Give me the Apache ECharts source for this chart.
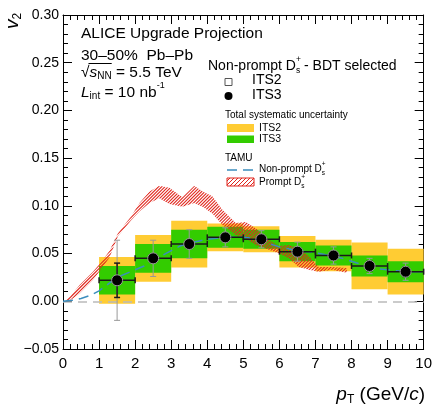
<!DOCTYPE html>
<html>
<head>
<meta charset="utf-8">
<script src="https://cdn.jsdelivr.net/npm/echarts@6/dist/echarts.min.js"></script>
<style>
  html, body { margin: 0; padding: 0; background: #fff; }
  #chart { width: 435px; height: 411px; }
</style>
</head>
<body>
<div id="chart"></div>
<script>
// projected v2 points, Non-prompt Ds (bin centres in GeV/c)
const ptCenters = [1.5, 2.5, 3.5, 4.5, 5.5, 6.5, 7.5, 8.5, 9.5]
const ptHalfWidth = [0.5, 0.5, 0.5, 0.5, 0.5, 0.5, 0.5, 0.5, 0.5]
const v2Points = [0.022, 0.045, 0.060, 0.067, 0.065, 0.052, 0.048, 0.037, 0.031]
const statITS3 = [0.018, 0.004, 0.003, 0.003, 0.003, 0.003, 0.003, 0.005, 0.005]
const statITS2 = [0.042, 0.019, 0.015, 0.010, 0.009, 0.010, 0.009, 0.008, 0.009]
const sysITS3 = [0.015, 0.015, 0.015, 0.011, 0.010, 0.010, 0.0105, 0.011, 0.011]
const sysITS2 = [0.0245, 0.0245, 0.0245, 0.0145, 0.0135, 0.0165, 0.0165, 0.0245, 0.024]

// TAMU non-prompt Ds curve
const tamuNonPromptPt = [0, 0.25, 0.5, 0.75, 1.0, 1.25, 1.5, 1.75, 2.0, 2.25, 2.5, 2.75, 3.0, 3.25, 3.5, 3.75,
  4.0, 4.25, 4.5, 4.75, 5.0, 5.25, 5.5, 5.75, 6.0, 6.25, 6.5, 6.75, 7.0, 7.25, 7.5, 7.75,
  8.0, 8.25, 8.5, 8.75, 9.0, 9.25, 9.5, 9.75, 10]
const tamuNonPromptV2 = [0, 0.001, 0.003, 0.006, 0.011, 0.018, 0.025, 0.029, 0.033, 0.037, 0.043, 0.048, 0.053, 0.058, 0.061, 0.063,
  0.065, 0.066, 0.067, 0.067, 0.067, 0.066, 0.065, 0.060, 0.057, 0.055, 0.053, 0.052, 0.051, 0.049, 0.047, 0.045,
  0.042, 0.039, 0.036, 0.034, 0.033, 0.032, 0.031, 0.031, 0.031]

// TAMU prompt Ds band
const tamuPromptPt = [0.1, 0.2, 0.46, 0.83, 1.1, 1.29, 1.52, 1.89, 2.12, 2.4, 2.67, 2.95, 3.31, 3.64, 3.87, 4.14,
  4.42, 4.79, 5.07, 5.34, 5.71, 5.99, 6.26, 6.54, 6.82, 7.09, 7.46, 7.87]
const tamuPromptHigh = [0.002, 0.005, 0.017, 0.031, 0.043, 0.053, 0.071, 0.089, 0.103, 0.115, 0.121, 0.119, 0.109, 0.121, 0.115, 0.110,
  0.096, 0.082, 0.083, 0.0765, 0.064, 0.058, 0.059, 0.0555, 0.047, 0.036, 0.036, 0.035]
const tamuPromptLow = [0, 0.001, 0.008, 0.022, 0.036, 0.046, 0.068, 0.085, 0.094, 0.103, 0.108, 0.102, 0.099, 0.103, 0.099, 0.092,
  0.080, 0.0695, 0.066, 0.059, 0.054, 0.050, 0.045, 0.036, 0.033, 0.031, 0.033, 0.030]

const xRange = [0, 10, 1]
const yRange = [-0.05, 0.30, 0.05]

const FONT = '"Liberation Sans", Arial, Helvetica, sans-serif'
const YELLOW = '#ffcc33'
const GREEN = '#33cc00'
const RED = '#e0251c'
const BLUE = '#3b8dbd'

const chart = echarts.init(document.getElementById('chart'))

// hatch pattern for the legend swatch
const hatch = document.createElement('canvas')
hatch.width = hatch.height = 4
const hg = hatch.getContext('2d')
hg.strokeStyle = RED
hg.lineWidth = 1
hg.beginPath()
hg.moveTo(0, 4); hg.lineTo(4, 0)
hg.moveTo(-1, 1); hg.lineTo(1, -1)
hg.moveTo(3, 5); hg.lineTo(5, 3)
hg.stroke()
const hatchFill = { image: hatch, repeat: 'repeat' }

// text helpers
const mctx = document.createElement('canvas').getContext('2d')
function tw(t, size, italic) {
  mctx.font = (italic ? 'italic ' : '') + size + 'px "Liberation Sans"'
  return mctx.measureText(t).width
}
function runText(x0, cy, segs) {
  const els = []
  let x = x0
  segs.forEach(s => {
    els.push({
      type: 'text', x: x, y: cy + (s.dy || 0), z: 100,
      style: { text: s.t, fontSize: s.s, fontStyle: s.i ? 'italic' : 'normal', fontFamily: FONT, fill: '#000', verticalAlign: 'middle', align: 'left' }
    })
    if (!s.stay) x += tw(s.t, s.s, s.i)
  })
  return els
}
function runWidth(segs) {
  return segs.reduce((w, s) => w + (s.stay ? 0 : tw(s.t, s.s, s.i)), 0)
}

const graphics = []
graphics.push(...runText(81, 33.5, [{ t: 'ALICE Upgrade Projection', s: 15.5 }]))
graphics.push(...runText(81, 55.5, [{ t: '30–50%  Pb–Pb', s: 15.5 }]))
const sqrtSegs = [{ t: '√', s: 15.5 }, { t: 's', s: 15.5, i: true }, { t: 'NN', s: 10, dy: 4 }, { t: ' = 5.5 TeV', s: 15.5 }]
graphics.push(...runText(81, 72.5, sqrtSegs))
const olStart = 81 + tw('√', 15.5)
const olEnd = olStart + tw('s', 15.5, true) + tw('NN', 10)
graphics.push({ type: 'line', z: 100, shape: { x1: olStart - 1, y1: 63.5, x2: olEnd, y2: 63.5 }, style: { stroke: '#000', lineWidth: 1 } })
graphics.push(...runText(81, 92.5, [{ t: 'L', s: 15.5, i: true }, { t: 'int', s: 10, dy: 4 }, { t: ' = 10 nb', s: 15.5 }, { t: '-1', s: 9, dy: -7 }]))

graphics.push(...runText(208, 66, [{ t: 'Non-prompt D', s: 14 }, { t: '+', s: 8.5, dy: -6, stay: true }, { t: 's', s: 8.5, dy: 5 }, { t: ' - BDT selected', s: 14 }]))
graphics.push({ type: 'rect', z: 100, shape: { x: 225, y: 78.5, width: 7, height: 7 }, style: { fill: '#fff', stroke: '#555', lineWidth: 1 } })
graphics.push(...runText(252, 80.5, [{ t: 'ITS2', s: 14 }]))
graphics.push({ type: 'circle', z: 100, shape: { cx: 228.5, cy: 96, r: 4 }, style: { fill: '#000' } })
graphics.push(...runText(252, 95.5, [{ t: 'ITS3', s: 14 }]))

graphics.push(...runText(225, 115, [{ t: 'Total systematic uncertainty', s: 10 }]))
graphics.push({ type: 'rect', z: 100, shape: { x: 227, y: 124, width: 27, height: 8 }, style: { fill: YELLOW } })
graphics.push(...runText(259, 128, [{ t: 'ITS2', s: 10.5 }]))
graphics.push({ type: 'rect', z: 100, shape: { x: 227, y: 135.5, width: 27, height: 7.5 }, style: { fill: GREEN } })
graphics.push(...runText(259, 139.5, [{ t: 'ITS3', s: 10.5 }]))

graphics.push(...runText(225, 158, [{ t: 'TAMU', s: 10 }]))
graphics.push({ type: 'line', z: 100, shape: { x1: 227, y1: 170, x2: 254, y2: 170 }, style: { stroke: BLUE, lineWidth: 1.5, lineDash: [10, 6] } })
graphics.push(...runText(259, 169.5, [{ t: 'Non-prompt D', s: 10 }, { t: '+', s: 6.5, dy: -5, stay: true }, { t: 's', s: 6.5, dy: 4 }]))
graphics.push({ type: 'rect', z: 100, shape: { x: 227, y: 178, width: 27, height: 8 }, style: { fill: hatchFill, stroke: RED, lineWidth: 1 } })
graphics.push(...runText(259, 182.5, [{ t: 'Prompt D', s: 10 }, { t: '+', s: 6.5, dy: -5, stay: true }, { t: 's', s: 6.5, dy: 4 }]))

// axis titles
const xTitle = [{ t: 'p', s: 19, i: true }, { t: 'T', s: 12, dy: 5 }, { t: ' (GeV/', s: 19 }, { t: 'c', s: 19, i: true }, { t: ')', s: 19 }]
graphics.push(...runText(425 - runWidth(xTitle), 395, xTitle))
graphics.push({
  type: 'group', x: 13, y: 29, rotation: Math.PI / 2, z: 100,
  children: runText(0, 0, [{ t: 'v', s: 19, i: true }, { t: '2', s: 12, dy: 5 }])
})

const pointData = ptCenters.map((x, i) => [x, v2Points[i]])

function boxRenderer(color, sys) {
  return function (params, api) {
    const i = params.dataIndex
    const x = api.value(0), y = api.value(1)
    const p1 = api.coord([x - ptHalfWidth[i], y + sys[i]])
    const p2 = api.coord([x + ptHalfWidth[i], y - sys[i]])
    return { type: 'rect', shape: { x: p1[0], y: p1[1], width: p2[0] - p1[0], height: p2[1] - p1[1] }, style: { fill: color } }
  }
}

function errRenderer(color, err, width, withX) {
  return function (params, api) {
    const i = params.dataIndex
    const x = api.value(0), y = api.value(1)
    const top = api.coord([x, y + err[i]])
    const bot = api.coord([x, y - err[i]])
    const st = { stroke: color, lineWidth: width }
    const kids = [
      { type: 'line', shape: { x1: top[0], y1: top[1], x2: bot[0], y2: bot[1] }, style: st },
      { type: 'line', shape: { x1: top[0] - 3, y1: top[1], x2: top[0] + 3, y2: top[1] }, style: st },
      { type: 'line', shape: { x1: bot[0] - 3, y1: bot[1], x2: bot[0] + 3, y2: bot[1] }, style: st }
    ]
    if (withX) {
      const l = api.coord([x - ptHalfWidth[i], y])
      const r = api.coord([x + ptHalfWidth[i], y])
      kids.push(
        { type: 'line', shape: { x1: l[0], y1: l[1], x2: r[0], y2: r[1] }, style: st },
        { type: 'line', shape: { x1: l[0], y1: l[1] - 3, x2: l[0], y2: l[1] + 3 }, style: st },
        { type: 'line', shape: { x1: r[0], y1: r[1] - 3, x2: r[0], y2: r[1] + 3 }, style: st }
      )
    }
    return { type: 'group', children: kids }
  }
}

// band drawn as "////" hatching clipped to the polygon
function bandRenderer(params, api) {
  const up = tamuPromptPt.map((x, i) => api.coord([x, tamuPromptHigh[i]]))
  const lo = tamuPromptPt.map((x, i) => api.coord([x, tamuPromptLow[i]])).reverse()
  const pts = up.concat(lo)
  const xs = pts.map(p => p[0]), ys = pts.map(p => p[1])
  const x0 = Math.min(...xs), x1 = Math.max(...xs), y0 = Math.min(...ys), y1 = Math.max(...ys)
  const h = y1 - y0
  const lines = []
  for (let k = x0 - h; k <= x1; k += 3.2) {
    lines.push({ type: 'line', shape: { x1: k, y1: y1, x2: k + h, y2: y0 }, style: { stroke: RED, lineWidth: 1.1 } })
  }
  return { type: 'group', clipPath: { type: 'polygon', shape: { points: pts } }, children: lines }
}

function makeX(pos, labels) {
  return {
    type: 'value', min: xRange[0], max: xRange[1], interval: xRange[2], position: pos,
    axisLine: { onZero: false, lineStyle: { color: '#000', width: 1 } },
    axisTick: { inside: true, length: 9, lineStyle: { color: '#000' } },
    minorTick: { show: true, splitNumber: 5, length: 5, lineStyle: { color: '#000' } },
    axisLabel: { show: labels, color: '#000', fontSize: 15, fontFamily: FONT, margin: 7 },
    splitLine: { show: false }, minorSplitLine: { show: false }
  }
}
function makeY(pos, labels) {
  return {
    type: 'value', min: yRange[0], max: yRange[1], interval: yRange[2], position: pos,
    axisLine: { onZero: false, lineStyle: { color: '#000', width: 1 } },
    axisTick: { inside: true, length: 9, lineStyle: { color: '#000' } },
    minorTick: { show: true, splitNumber: 5, length: 5, lineStyle: { color: '#000' } },
    axisLabel: {
      show: labels, color: '#000', fontSize: 14, fontFamily: FONT, margin: 4,
      formatter: v => (v < -1e-9 ? '−' : '') + Math.abs(v).toFixed(2)
    },
    splitLine: { show: false }, minorSplitLine: { show: false }
  }
}

chart.setOption({
  animation: false,
  backgroundColor: '#fff',
  grid: { left: 63, right: 10, top: 15, bottom: 62 },
  xAxis: [makeX('bottom', true), makeX('top', false)],
  yAxis: [makeY('left', true), makeY('right', false)],
  graphic: graphics,
  series: [
    {
      type: 'line', data: [], z: 1,
      markLine: {
        silent: true, symbol: 'none', label: { show: false },
        lineStyle: { color: '#bbb', type: [9, 6], width: 1.5 },
        data: [{ yAxis: 0 }]
      }
    },
    { name: 'sys ITS2', type: 'custom', z: 2, data: pointData, renderItem: boxRenderer(YELLOW, sysITS2) },
    { name: 'sys ITS3', type: 'custom', z: 3, data: pointData, renderItem: boxRenderer(GREEN, sysITS3) },
    { name: 'Prompt Ds', type: 'custom', z: 4, data: [[0, 0]], renderItem: bandRenderer },
    {
      name: 'Non-prompt Ds', type: 'line', z: 5, symbol: 'none',
      data: tamuNonPromptPt.map((x, i) => [x, tamuNonPromptV2[i]]),
      lineStyle: { color: BLUE, width: 1.5, type: [10, 6] }
    },
    { name: 'stat ITS2', type: 'custom', z: 6, data: pointData, renderItem: errRenderer('#999', statITS2, 1, false) },
    { name: 'stat ITS3', type: 'custom', z: 7, data: pointData, renderItem: errRenderer('#1a1a1a', statITS3, 1.5, true) },
    {
      name: 'ITS3', type: 'scatter', z: 8, data: pointData, symbol: 'circle', symbolSize: 11,
      itemStyle: { color: '#000', borderColor: '#999', borderWidth: 1, opacity: 1 }
    }
  ]
})
</script>
</body>
</html>
